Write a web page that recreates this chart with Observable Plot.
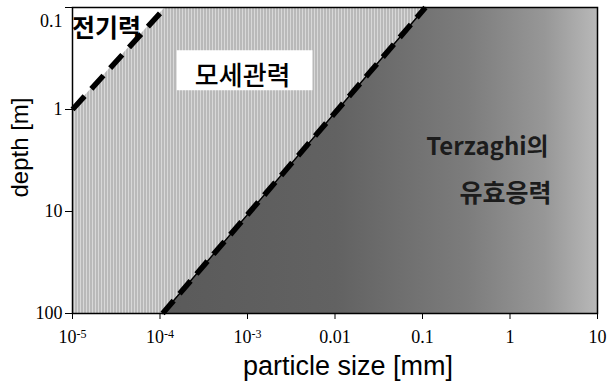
<!DOCTYPE html>
<html>
<head>
<meta charset="utf-8">
<script src="https://cdn.jsdelivr.net/npm/d3@7"></script>
<script src="https://cdn.jsdelivr.net/npm/@observablehq/plot@0.6"></script>
<style>
  html, body { margin: 0; padding: 0; background: #fff; }
</style>
</head>
<body>
<div id="chart"></div>
<script>
// ---- data ----
const sizeDomain = [1e-5, 10];          // particle size [mm]
const depthDomain = [0.1, 100];         // depth [m]
const sizeTicks = [1e-5, 1e-4, 1e-3, 0.01, 0.1, 1, 10];
const sizeTickLabels = ["10^-5", "10^-4", "10^-3", "0.01", "0.1", "1", "10"];
const depthTicks = [0.1, 1, 10, 100];
const depthTickLabels = ["0.1", "1", "10", "100"];

// boundary electric forces / capillary forces
const electricSize = [1e-5, 1.15e-4];
const electricDepth = [1, 0.1];
// boundary capillary forces / Terzaghi effective stress
const effectiveSize = [1.07e-4, 0.108];
const effectiveDepth = [100, 0.1];

// region labels
const regionLabels = ["전기력", "모세관력", "Terzaghi의", "유효응력"];
const labelSize = [2.45e-5, 8.8e-4, 0.553, 0.89];
const labelDepth = [0.164, 0.474, 2.36, 6.8];

// ---- derived tables ----
const electricLine = electricSize.map((s, i) => ({size: s, depth: electricDepth[i]}));
const effectiveLine = effectiveSize.map((s, i) => ({size: s, depth: effectiveDepth[i]}));
const electricArea = [
  {size: electricSize[0], d1: depthDomain[0], d2: electricDepth[0]},
  {size: electricSize[1], d1: depthDomain[0], d2: electricDepth[1]}
];
const effectiveArea = [
  {size: effectiveSize[0], d1: effectiveDepth[0], d2: depthDomain[1]},
  {size: effectiveSize[1], d1: effectiveDepth[1], d2: depthDomain[1]},
  {size: sizeDomain[1], d1: depthDomain[0], d2: depthDomain[1]}
];
const labels = regionLabels.map((t, i) => ({text: t, size: labelSize[i], depth: labelDepth[i]}));

const findLabel = (ticks, lbls) => d => {
  const i = ticks.findIndex(t => Math.abs(Math.log10(t / d)) < 1e-6);
  return i >= 0 ? lbls[i] : "";
};

const cjk = "'Noto Sans CJK KR', 'Liberation Sans', sans-serif";
const sans = "'Liberation Sans', Arial, sans-serif";

const svg = Plot.plot({
  width: 609,
  height: 385,
  marginTop: 7,
  marginBottom: 72,
  marginLeft: 72,
  marginRight: 12,
  style: {fontFamily: "'Liberation Serif', serif", fontSize: "18px", color: "#000", background: "#fff"},
  x: {type: "log", domain: sizeDomain, ticks: sizeTicks, tickFormat: findLabel(sizeTicks, sizeTickLabels),
      tickSize: 6, tickPadding: 11, label: null},
  y: {type: "log", domain: depthDomain, reverse: true, ticks: depthTicks, tickFormat: findLabel(depthTicks, depthTickLabels),
      tickSize: 7, tickPadding: 3, label: null},
  marks: [
    Plot.frame({fill: "url(#stripes)", stroke: null}),
    Plot.areaY(electricArea, {x: "size", y1: "d1", y2: "d2", fill: "#fff"}),
    Plot.areaY(effectiveArea, {x: "size", y1: "d1", y2: "d2", fill: "url(#darkGrad)"}),
    Plot.line(effectiveLine, {x: "size", y: "depth", stroke: "#000", strokeWidth: 1.3}),
    Plot.line(effectiveLine, {x: "size", y: "depth", stroke: "#000", strokeWidth: 5.5, strokeDasharray: "17,9", strokeLinecap: "butt"}),
    Plot.line(electricLine, {x: "size", y: "depth", stroke: "#000", strokeWidth: 5.5, strokeDasharray: "18,10", strokeLinecap: "butt"}),
    Plot.text(labels.slice(0, 1), {x: "size", y: "depth", text: "text", fontFamily: cjk, fontSize: 25, fontWeight: "bold", fill: "#000"}),
    Plot.text(labels.slice(1, 2), {x: "size", y: "depth", text: "text", fontFamily: cjk, fontSize: 26, fontWeight: 500, fill: "#000"}),
    Plot.text(labels.slice(2, 3), {x: "size", y: "depth", text: "text", fontFamily: cjk, fontSize: 24, fontWeight: "bold", fill: "#1c1c1c"}),
    Plot.text(labels.slice(3), {x: "size", y: "depth", text: "text", fontFamily: cjk, fontSize: 25, fontWeight: "bold", fill: "#1c1c1c"}),
    Plot.text(["particle size [mm]"], {frameAnchor: "bottom", dx: 13, dy: 53, text: d => d,
      textAnchor: "middle", lineAnchor: "middle", fontFamily: sans, fontSize: 27, fill: "#000"}),
    Plot.text(["depth [m]"], {frameAnchor: "left", dx: -52, dy: -13, rotate: -90, text: d => d,
      textAnchor: "middle", lineAnchor: "middle", fontFamily: sans, fontSize: 24, fill: "#000"}),
    Plot.frame({stroke: "#000", strokeWidth: 1.5})
  ]
});

document.getElementById("chart").appendChild(svg);

// ---- defs: striped light fill and graded dark fill ----
const root = d3.select(svg);
const defs = root.insert("defs", ":first-child");
const pat = defs.append("pattern").attr("id", "stripes").attr("patternUnits", "userSpaceOnUse")
  .attr("width", 3).attr("height", 4);
pat.append("rect").attr("width", 3).attr("height", 4).attr("fill", "#d8d8d8");
pat.append("rect").attr("width", 1).attr("height", 4).attr("fill", "#999");
const grad = defs.append("linearGradient").attr("id", "darkGrad")
  .attr("x1", 0).attr("x2", 1).attr("y1", 0).attr("y2", 0);
[[0, "#5a5a5a"], [0.4, "#626262"], [0.7, "#7c7c7c"], [0.88, "#979797"], [1, "#b8b8b8"]]
  .forEach(([o, c]) => grad.append("stop").attr("offset", o).attr("stop-color", c));

// superscript exponents on the x tick labels
root.selectAll("text").each(function() {
  const t = this.textContent;
  if (t.includes("^") && this.childElementCount === 0) {
    const [b, e] = t.split("^");
    const sel = d3.select(this);
    sel.text(b);
    sel.append("tspan").attr("dy", "-0.45em").attr("font-size", "12px").text(e);
  }
});

// the top depth label sits just below the frame corner, as in the reference
root.selectAll('g[aria-label="y-axis tick label"] text').each(function() {
  if (this.textContent === depthTickLabels[0]) this.setAttribute("dy", "0.75em");
});

// white box behind the capillary-force label
root.selectAll("text").each(function() {
  if (this.textContent === regionLabels[1]) {
    const bb = this.getBBox();
    const cy = bb.y + bb.height / 2 - 3;
    const r = document.createElementNS("http://www.w3.org/2000/svg", "rect");
    r.setAttribute("x", bb.x - 18);
    r.setAttribute("y", cy - 20);
    r.setAttribute("width", bb.width + 40);
    r.setAttribute("height", 40);
    r.setAttribute("fill", "#fff");
    const tr = this.getAttribute("transform");
    if (tr) r.setAttribute("transform", tr);
    if (this.getAttribute("x") != null) {
      r.setAttribute("x", +this.getAttribute("x") + bb.x - (+this.getAttribute("x")) - 18);
    }
    this.parentNode.insertBefore(r, this);
  }
});
</script>
</body>
</html>
